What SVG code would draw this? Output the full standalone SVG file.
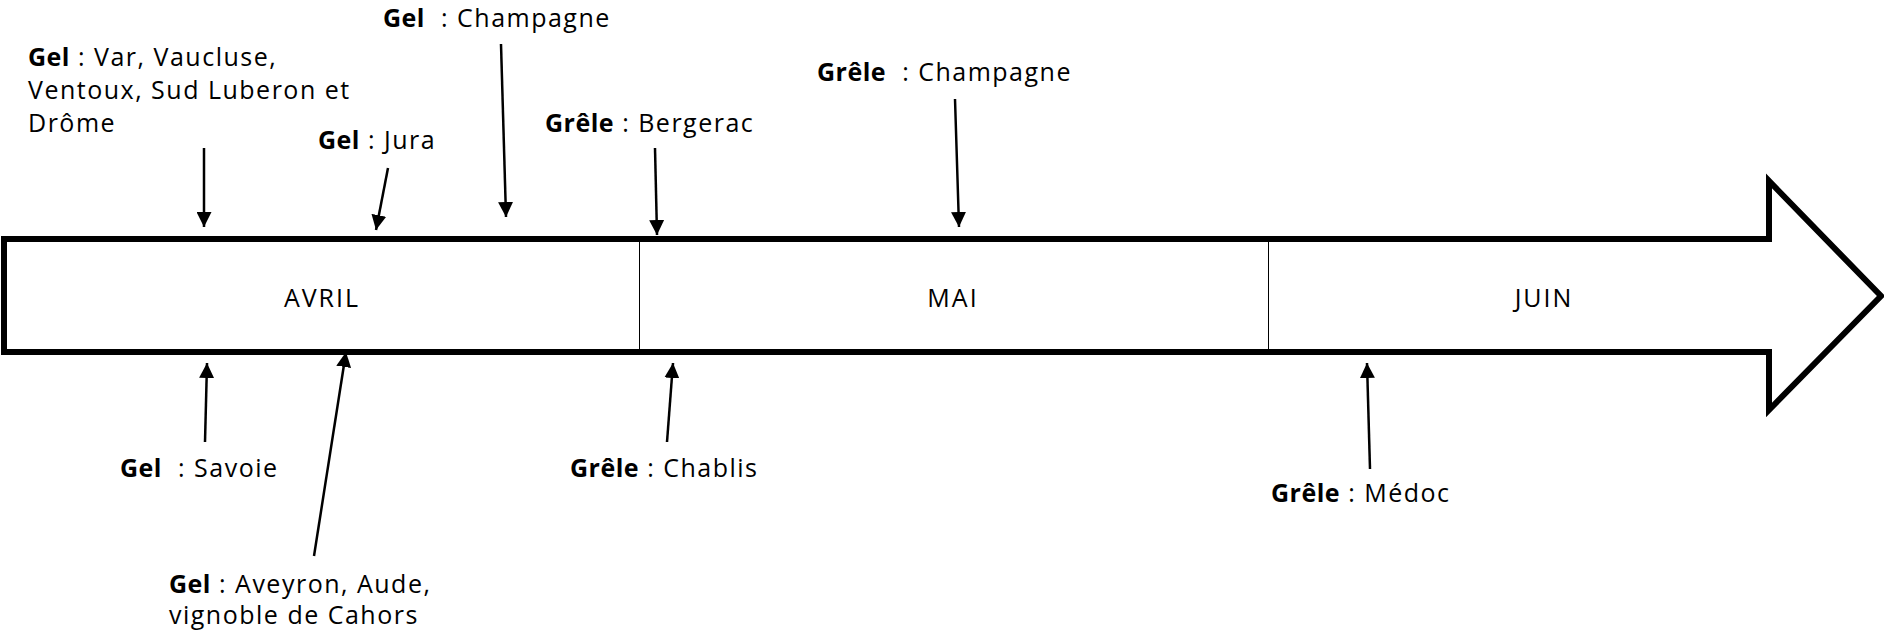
<svg xmlns="http://www.w3.org/2000/svg" width="1884" height="633" viewBox="0 0 1884 633">
<defs>
<style>
text{font-family:"Open Sans","Liberation Sans",sans-serif;font-size:25px;letter-spacing:1.5px;fill:#000}
.b{font-weight:bold;letter-spacing:0.5px}
.m{font-size:25px;letter-spacing:2px;text-anchor:middle;dominant-baseline:central}
.c{stroke:#000;stroke-width:2.5;fill:none;marker-end:url(#ah)}
</style>
<marker id="ah" viewBox="0 0 10 10" refX="10" refY="5" markerWidth="6" markerHeight="6" orient="auto" markerUnits="strokeWidth">
<path d="M0,0 L10,5 L0,10 z" fill="#000"/>
</marker>
</defs>
<rect width="1884" height="633" fill="#fff"/>
<g id="timeline">
<path d="M4,239 L1769,239 L1769,181 L1881,296 L1769,410 L1769,352 L4,352 Z" fill="#fff" stroke="#000" stroke-width="6"/>
<line x1="639.5" y1="242" x2="639.5" y2="349" stroke="#000" stroke-width="1"/>
<line x1="1268.5" y1="242" x2="1268.5" y2="349" stroke="#000" stroke-width="1"/>
</g>
<g id="avril"><text class="m" x="322" y="297">AVRIL</text></g>
<g id="mai"><text class="m" x="953" y="297">MAI</text></g>
<g id="juin"><text class="m" x="1544" y="297">JUIN</text></g>
<g id="gel-var"><text x="28" y="66"><tspan class="b">Gel</tspan> : Var, Vaucluse,</text><text x="28" y="99">Ventoux, Sud Luberon et</text><text x="28" y="132">Drôme</text></g>
<g id="gel-champagne"><text x="383" y="27" xml:space="preserve"><tspan class="b">Gel</tspan>  : Champagne</text></g>
<g id="gel-jura"><text x="318" y="149"><tspan class="b">Gel</tspan> : Jura</text></g>
<g id="grele-bergerac"><text x="545" y="132"><tspan class="b">Grêle</tspan> : Bergerac</text></g>
<g id="grele-champagne"><text x="817" y="81" xml:space="preserve"><tspan class="b">Grêle</tspan>  : Champagne</text></g>
<g id="gel-savoie"><text x="120" y="477" xml:space="preserve"><tspan class="b">Gel</tspan>  : Savoie</text></g>
<g id="gel-aveyron"><text x="169" y="593"><tspan class="b">Gel</tspan> : Aveyron, Aude,</text><text x="169" y="624">vignoble de Cahors</text></g>
<g id="grele-chablis"><text x="570" y="477"><tspan class="b">Grêle</tspan> : Chablis</text></g>
<g id="grele-medoc"><text x="1271" y="502"><tspan class="b">Grêle</tspan> : Médoc</text></g>
<g id="connectors">
<line class="c" x1="204" y1="148" x2="204" y2="227"/>
<line class="c" x1="388" y1="168" x2="376" y2="230"/>
<line class="c" x1="501" y1="44" x2="506" y2="217"/>
<line class="c" x1="655" y1="148" x2="657" y2="235"/>
<line class="c" x1="955" y1="99" x2="959" y2="227"/>
<line class="c" x1="205" y1="442" x2="207" y2="363"/>
<line class="c" x1="314" y1="556" x2="346" y2="352"/>
<line class="c" x1="667" y1="442" x2="673" y2="363"/>
<line class="c" x1="1370" y1="469" x2="1367" y2="363"/>
</g>
</svg>
